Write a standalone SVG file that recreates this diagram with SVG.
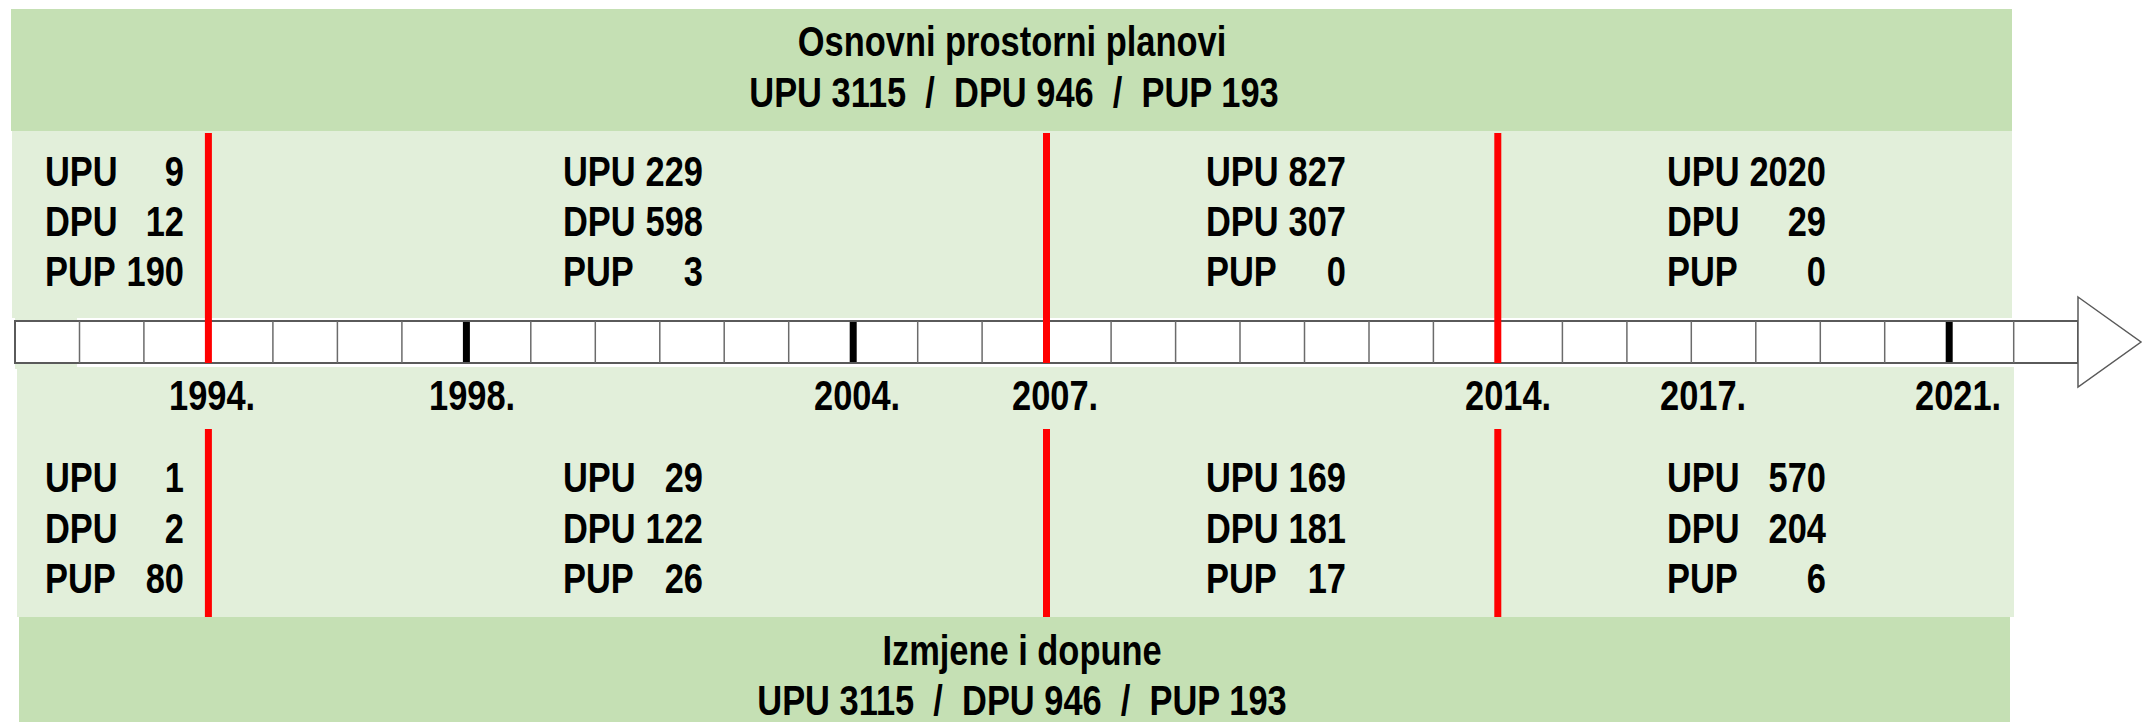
<svg xmlns="http://www.w3.org/2000/svg" width="2152" height="722" viewBox="0 0 2152 722">
<style>
  text { font-family: "Liberation Sans", Arial, sans-serif; font-weight: bold; font-size: 42px; fill: #000; }
  .m { text-anchor: middle; }
  .e { text-anchor: end; }
  .dark { fill: #C5E0B4; }
  .light { fill: #E2EFDA; }
  .cell { stroke: #6b6b6b; stroke-width: 1.5; }
  .red { stroke: #FF0000; stroke-width: 7; }
  .blk { stroke: #000; stroke-width: 7; }
</style>
<rect width="2152" height="722" fill="#fff"/>

<g id="band-top">
  <rect class="dark" x="11" y="9" width="2001" height="122"/>
  <rect class="light" x="12" y="131" width="2000" height="187"/>
  <text xml:space="preserve" class="m" transform="translate(1012,56) scale(0.82,1)">Osnovni prostorni planovi</text>
  <text xml:space="preserve" class="m" transform="translate(1014,107) scale(0.82,1)">UPU 3115  /  DPU 946  /  PUP 193</text>
</g>

<g id="band-bottom">
  <rect class="light" x="17" y="367" width="1997" height="250"/>
  <rect class="dark" x="19" y="617" width="1991" height="105"/>
  <text xml:space="preserve" class="m" transform="translate(1022,665) scale(0.82,1)">Izmjene i dopune</text>
  <text xml:space="preserve" class="m" transform="translate(1022,715) scale(0.82,1)">UPU 3115  /  DPU 946  /  PUP 193</text>
</g>
<rect class="light" x="15" y="316" width="62" height="53"/>

<g id="timeline">
  <rect x="15" y="321" width="2063" height="42" fill="#fff" stroke="#5a5a5a" stroke-width="2"/>
  <g class="cell">
    <line x1="79.5" y1="321" x2="79.5" y2="363"/>
    <line x1="143.9" y1="321" x2="143.9" y2="363"/>
    <line x1="272.9" y1="321" x2="272.9" y2="363"/>
    <line x1="337.4" y1="321" x2="337.4" y2="363"/>
    <line x1="401.9" y1="321" x2="401.9" y2="363"/>
    <line x1="530.8" y1="321" x2="530.8" y2="363"/>
    <line x1="595.3" y1="321" x2="595.3" y2="363"/>
    <line x1="659.8" y1="321" x2="659.8" y2="363"/>
    <line x1="724.2" y1="321" x2="724.2" y2="363"/>
    <line x1="788.7" y1="321" x2="788.7" y2="363"/>
    <line x1="917.7" y1="321" x2="917.7" y2="363"/>
    <line x1="982.1" y1="321" x2="982.1" y2="363"/>
    <line x1="1111.1" y1="321" x2="1111.1" y2="363"/>
    <line x1="1175.6" y1="321" x2="1175.6" y2="363"/>
    <line x1="1240.0" y1="321" x2="1240.0" y2="363"/>
    <line x1="1304.5" y1="321" x2="1304.5" y2="363"/>
    <line x1="1369.0" y1="321" x2="1369.0" y2="363"/>
    <line x1="1433.4" y1="321" x2="1433.4" y2="363"/>
    <line x1="1562.4" y1="321" x2="1562.4" y2="363"/>
    <line x1="1626.9" y1="321" x2="1626.9" y2="363"/>
    <line x1="1691.3" y1="321" x2="1691.3" y2="363"/>
    <line x1="1755.8" y1="321" x2="1755.8" y2="363"/>
    <line x1="1820.3" y1="321" x2="1820.3" y2="363"/>
    <line x1="1884.7" y1="321" x2="1884.7" y2="363"/>
    <line x1="2013.7" y1="321" x2="2013.7" y2="363"/>
  </g>
  <polygon points="2078,297 2141,342 2078,387" fill="#fff" stroke="#5a5a5a" stroke-width="1.5"/>
  <g class="blk">
    <line x1="466.4" y1="322" x2="466.4" y2="362"/>
    <line x1="853.2" y1="322" x2="853.2" y2="362"/>
    <line x1="1949.2" y1="322" x2="1949.2" y2="362"/>
  </g>
</g>

<g id="connectors">
  <g class="red">
    <line x1="208.4" y1="133" x2="208.4" y2="363"/>
    <line x1="208.4" y1="429" x2="208.4" y2="617"/>
    <line x1="1046.5" y1="133" x2="1046.5" y2="363"/>
    <line x1="1046.5" y1="429" x2="1046.5" y2="617"/>
    <line x1="1497.8" y1="133" x2="1497.8" y2="363"/>
    <line x1="1497.8" y1="429" x2="1497.8" y2="617"/>
  </g>
</g>

<g id="years">
  <text transform="translate(169,410) scale(0.82,1)">1994.</text>
  <text transform="translate(429,410) scale(0.82,1)">1998.</text>
  <text transform="translate(814,410) scale(0.82,1)">2004.</text>
  <text transform="translate(1012,410) scale(0.82,1)">2007.</text>
  <text transform="translate(1465,410) scale(0.82,1)">2014.</text>
  <text transform="translate(1660,410) scale(0.82,1)">2017.</text>
  <text transform="translate(1915,410) scale(0.82,1)">2021.</text>
</g>

<g id="period-1-top">
  <text transform="translate(45,186) scale(0.82,1)">UPU</text><text class="e" transform="translate(184,186) scale(0.82,1)">9</text>
  <text transform="translate(45,236) scale(0.82,1)">DPU</text><text class="e" transform="translate(184,236) scale(0.82,1)">12</text>
  <text transform="translate(45,286) scale(0.82,1)">PUP</text><text class="e" transform="translate(184,286) scale(0.82,1)">190</text>
</g>
<g id="period-2-top">
  <text transform="translate(563,186) scale(0.82,1)">UPU</text><text class="e" transform="translate(703,186) scale(0.82,1)">229</text>
  <text transform="translate(563,236) scale(0.82,1)">DPU</text><text class="e" transform="translate(703,236) scale(0.82,1)">598</text>
  <text transform="translate(563,286) scale(0.82,1)">PUP</text><text class="e" transform="translate(703,286) scale(0.82,1)">3</text>
</g>
<g id="period-3-top">
  <text transform="translate(1206,186) scale(0.82,1)">UPU</text><text class="e" transform="translate(1346,186) scale(0.82,1)">827</text>
  <text transform="translate(1206,236) scale(0.82,1)">DPU</text><text class="e" transform="translate(1346,236) scale(0.82,1)">307</text>
  <text transform="translate(1206,286) scale(0.82,1)">PUP</text><text class="e" transform="translate(1346,286) scale(0.82,1)">0</text>
</g>
<g id="period-4-top">
  <text transform="translate(1667,186) scale(0.82,1)">UPU</text><text class="e" transform="translate(1826,186) scale(0.82,1)">2020</text>
  <text transform="translate(1667,236) scale(0.82,1)">DPU</text><text class="e" transform="translate(1826,236) scale(0.82,1)">29</text>
  <text transform="translate(1667,286) scale(0.82,1)">PUP</text><text class="e" transform="translate(1826,286) scale(0.82,1)">0</text>
</g>

<g id="period-1-bottom">
  <text transform="translate(45,492) scale(0.82,1)">UPU</text><text class="e" transform="translate(184,492) scale(0.82,1)">1</text>
  <text transform="translate(45,543) scale(0.82,1)">DPU</text><text class="e" transform="translate(184,543) scale(0.82,1)">2</text>
  <text transform="translate(45,593) scale(0.82,1)">PUP</text><text class="e" transform="translate(184,593) scale(0.82,1)">80</text>
</g>
<g id="period-2-bottom">
  <text transform="translate(563,492) scale(0.82,1)">UPU</text><text class="e" transform="translate(703,492) scale(0.82,1)">29</text>
  <text transform="translate(563,543) scale(0.82,1)">DPU</text><text class="e" transform="translate(703,543) scale(0.82,1)">122</text>
  <text transform="translate(563,593) scale(0.82,1)">PUP</text><text class="e" transform="translate(703,593) scale(0.82,1)">26</text>
</g>
<g id="period-3-bottom">
  <text transform="translate(1206,492) scale(0.82,1)">UPU</text><text class="e" transform="translate(1346,492) scale(0.82,1)">169</text>
  <text transform="translate(1206,543) scale(0.82,1)">DPU</text><text class="e" transform="translate(1346,543) scale(0.82,1)">181</text>
  <text transform="translate(1206,593) scale(0.82,1)">PUP</text><text class="e" transform="translate(1346,593) scale(0.82,1)">17</text>
</g>
<g id="period-4-bottom">
  <text transform="translate(1667,492) scale(0.82,1)">UPU</text><text class="e" transform="translate(1826,492) scale(0.82,1)">570</text>
  <text transform="translate(1667,543) scale(0.82,1)">DPU</text><text class="e" transform="translate(1826,543) scale(0.82,1)">204</text>
  <text transform="translate(1667,593) scale(0.82,1)">PUP</text><text class="e" transform="translate(1826,593) scale(0.82,1)">6</text>
</g>
</svg>
